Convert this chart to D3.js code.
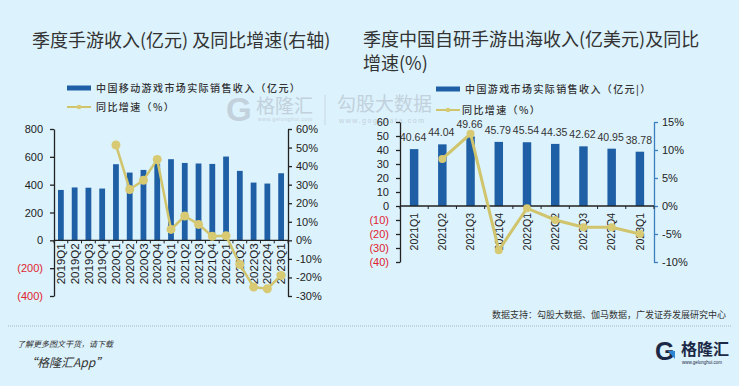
<!DOCTYPE html>
<html><head><meta charset="utf-8">
<script src="https://cdn.jsdelivr.net/npm/d3@7"></script>
<style>
html,body{margin:0;padding:0;background:#dcf2fc;}
svg{display:block;}
text{font-family:"Liberation Sans",Arial,sans-serif;}
</style></head><body>
<svg id="c" width="739" height="386"></svg>
<script>
// ---------- data ----------
const quartersL = ["2019Q1","2019Q2","2019Q3","2019Q4","2020Q1","2020Q2","2020Q3","2020Q4","2021Q1","2021Q2","2021Q3","2021Q4","2022Q1","2022Q2","2022Q3","2022Q4","2023Q1"];
const revenueL = [362,380,378,372,547,487,506,550,583,556,552,549,602,499,415,408,482];
const growthL = [null,null,null,null,51.4,27.4,32.4,43.6,5.9,13.1,8.6,2.2,2.5,-13.0,-25.2,-26.1,-18.9];
const leftTicksL = [800,600,400,200,0,-200,-400];
const rightTicksL = [60,50,40,30,20,10,0,-10,-20,-30];

const quartersR = ["2021Q1","2021Q2","2021Q3","2021Q4","2022Q1","2022Q2","2022Q3","2022Q4","2023Q1"];
const revenueR = [40.64,44.04,49.66,45.79,45.54,44.35,42.62,40.95,38.78];
const growthR = [null,8.4,12.9,-7.9,-0.4,-2.5,-3.8,-3.8,-5.0];
const leftTicksR = [60,50,40,30,20,10,0,-10,-20,-30,-40];
const rightTicksR = [15,10,5,0,-5,-10];

const titleL = "季度手游收入(亿元) 及同比增速(右轴)";
const titleR1 = "季度中国自研手游出海收入(亿美元)及同比";
const titleR2 = "增速(%)";
const legendBarL = "中国移动游戏市场实际销售收入（亿元）";
const legendBarR = "中国游戏市场实际销售收入（亿元|）";
const legendLine = "同比增速（%）";
const sourceText = "数据支持：勾股大数据、伽马数据，广发证券发展研究中心";

// ---------- styles ----------
const BAR = "#1f5fa5", LINE = "#d0c46c", DOT = "#d8ca72", INK = "#333";
const CJK = '"Noto Sans CJK SC","Noto Sans",sans-serif';
const svg = d3.select("#c");

const fmtNum = v => v < 0 ? "(" + Math.abs(v) + ")" : String(v);
const fmtPct = v => v + "%";

// ---------- watermark ----------
const wm = svg.append("g").attr("fill", "#c2d1dc");
wm.append("text").attr("x", 226).attr("y", 121).attr("font-size", 33).attr("font-weight", 900).text("G");
wm.append("text").attr("x", 256).attr("y", 113).attr("font-size", 19).style("font-family", CJK).text("格隆汇");
wm.append("text").attr("x", 258).attr("y", 121).attr("font-size", 5).attr("letter-spacing", 0.6).text("www.gelonghui.com");
wm.append("line").attr("x1", 325).attr("x2", 325).attr("y1", 95).attr("y2", 125).attr("stroke", "#c8d6e0").attr("stroke-width", 1);
wm.append("text").attr("x", 337).attr("y", 111).attr("font-size", 19).style("font-family", CJK).text("勾股大数据");
wm.append("text").attr("x", 339).attr("y", 123).attr("font-size", 7).attr("letter-spacing", 1.6).text("www.gogudata.com");

// ---------- titles ----------
svg.append("text").attr("x", 32).attr("y", 47).attr("font-size", 18).attr("fill", INK).style("font-family", CJK).text(titleL);
svg.append("text").attr("x", 363).attr("y", 46).attr("font-size", 18).attr("fill", INK).style("font-family", CJK).text(titleR1);
svg.append("text").attr("x", 363).attr("y", 70).attr("font-size", 18).attr("fill", INK).style("font-family", CJK).text(titleR2);

// ---------- legends ----------
function legend(x0, yBar, yLine, txtX, barLabel, lineTxtX) {
  svg.append("rect").attr("x", x0).attr("y", yBar - 2.5).attr("width", 24).attr("height", 5).attr("fill", BAR);
  svg.append("text").attr("x", txtX).attr("y", yBar + 3.5).attr("font-size", 10).attr("letter-spacing", 1.4)
     .attr("font-weight", 500).attr("fill", INK).style("font-family", CJK).text(barLabel);
  svg.append("line").attr("x1", x0).attr("x2", x0 + 24).attr("y1", yLine).attr("y2", yLine).attr("stroke", LINE).attr("stroke-width", 2);
  svg.append("circle").attr("cx", x0 + 12).attr("cy", yLine).attr("r", 2.3).attr("fill", DOT);
  svg.append("text").attr("x", lineTxtX).attr("y", yLine + 3.5).attr("font-size", 10).attr("letter-spacing", 1.4)
     .attr("font-weight", 500).attr("fill", INK).style("font-family", CJK).text(legendLine);
}
legend(67, 88, 107, 96, legendBarL, 96);
legend(436, 89, 110, 465, legendBarR, 462);

// ---------- generic dual-axis chart ----------
function chart(o) {
  const g = svg.append("g");
  const x = d3.scaleBand().domain(o.cats).range([o.x0, o.x1]).paddingInner(o.pad).paddingOuter(o.pad / 2);
  const yL = d3.scaleLinear().domain(o.domL).range([o.yb, o.yt]);
  const yR = d3.scaleLinear().domain(o.domR).range([o.yb, o.yt]);
  const step = x.step();
  const y0 = yL(0);

  g.selectAll("rect.bar").data(o.cats).join("rect").attr("class", "bar")
    .attr("x", d => x(d)).attr("width", x.bandwidth())
    .attr("y", (d, i) => yL(o.bars[i])).attr("height", (d, i) => y0 - yL(o.bars[i]))
    .attr("fill", BAR);

  if (o.values) {
    g.selectAll("text.val").data(o.cats).join("text").attr("class", "val")
      .attr("x", d => x(d) + x.bandwidth() / 2 - 1).attr("y", (d, i) => yL(o.bars[i]) - 8)
      .attr("text-anchor", "middle").attr("font-size", 10.5).attr("fill", INK)
      .text((d, i) => o.bars[i].toFixed(2));
  }

  const aL = g.append("g").attr("transform", `translate(${o.x0},0)`)
    .call(d3.axisLeft(yL).tickValues(o.ticksL).tickSize(4).tickSizeOuter(0).tickPadding(o.padL).tickFormat(fmtNum));
  aL.select(".domain").attr("stroke", o.colL).attr("stroke-width", 1.3);
  aL.selectAll(".tick line").attr("stroke", o.colL).attr("stroke-width", 1.3);
  aL.selectAll(".tick text").attr("font-size", 11).attr("font-family", '"Liberation Sans",Arial,sans-serif')
    .attr("fill", d => d < 0 ? "#e0242f" : "#222");

  const aR = g.append("g").attr("transform", `translate(${o.x1},0)`)
    .call(d3.axisRight(yR).tickValues(o.ticksR).tickSize(4).tickSizeOuter(0).tickPadding(4).tickFormat(fmtPct));
  aR.select(".domain").attr("stroke", o.colR).attr("stroke-width", 1.3);
  aR.selectAll(".tick line").attr("stroke", o.colR).attr("stroke-width", 1.3);
  aR.selectAll(".tick text").attr("font-size", 11).attr("font-family", '"Liberation Sans",Arial,sans-serif').attr("fill", "#222");

  g.append("line").attr("x1", o.x0).attr("x2", o.x1).attr("y1", y0).attr("y2", y0).attr("stroke", "#222").attr("stroke-width", 1.3);
  g.selectAll("line.bt").data(d3.range(o.cats.length + 1)).join("line").attr("class", "bt")
    .attr("x1", i => o.x0 + i * step).attr("x2", i => o.x0 + i * step)
    .attr("y1", y0).attr("y2", y0 + 3).attr("stroke", "#222").attr("stroke-width", 1);

  g.selectAll("text.cat").data(o.cats).join("text").attr("class", "cat")
    .attr("transform", d => `translate(${x(d) + x.bandwidth() / 2 + o.catFs * 0.36},${y0 + o.catGap}) rotate(-90)`)
    .attr("text-anchor", "end").attr("font-size", o.catFs).attr("fill", "#222").text(d => d);

  const pts = o.cats.map((d, i) => [x(d) + x.bandwidth() / 2, o.line[i]]).filter(p => p[1] != null);
  const ln = d3.line().x(p => p[0]).y(p => yR(p[1]));
  g.append("path").attr("d", ln(pts)).attr("fill", "none").attr("stroke", LINE).attr("stroke-width", o.lw);
  g.selectAll("circle.pt").data(pts).join("circle").attr("class", "pt")
    .attr("cx", p => p[0]).attr("cy", p => yR(p[1])).attr("r", o.r).attr("fill", DOT);
}

chart({cats: quartersL, bars: revenueL, line: growthL, x0: 54, x1: 288, yt: 129, yb: 296,
  domL: [-400, 800], domR: [-30, 60], ticksL: leftTicksL, ticksR: rightTicksL, pad: 0.58,
  padL: 7, colL: "#222", colR: "#222", catFs: 11.5, catGap: 3, lw: 2.5, r: 4.5, values: false});

chart({cats: quartersR, bars: revenueR, line: growthR, x0: 400, x1: 654, yt: 122, yb: 262,
  domL: [-40, 60], domR: [-10, 15], ticksL: leftTicksR, ticksR: rightTicksR, pad: 0.7,
  padL: 7, colL: "#222", colR: "#3b7fc0", catFs: 10.5, catGap: 7, lw: 3, r: 4, values: true});

// ---------- footer ----------
svg.append("text").attr("x", 492).attr("y", 318).attr("font-size", 9).attr("fill", INK).style("font-family", CJK).text(sourceText);
svg.append("line").attr("x1", 8).attr("x2", 731).attr("y1", 326).attr("y2", 326)
  .attr("stroke", "#a9b8c2").attr("stroke-width", 1).attr("stroke-dasharray", "1,1");
svg.append("text").attr("x", 17).attr("y", 347).attr("font-size", 8).attr("font-style", "italic").attr("fill", INK).style("font-family", CJK).text("了解更多图文干货，请下载");
svg.append("text").attr("x", 25).attr("y", 367).attr("font-size", 12).attr("font-style", "italic").attr("fill", INK).style("font-family", CJK).text("“格隆汇App”");

const logo = svg.append("g");
logo.append("text").attr("x", 655).attr("y", 360).attr("font-size", 25).attr("font-weight", 900).attr("fill", "#1b2946").text("G");
logo.append("path").attr("d", "M668,351 L675,351 L675,359 Z").attr("fill", "#2c86d6");
logo.append("text").attr("x", 681).attr("y", 355).attr("font-size", 16).attr("font-weight", 700).attr("fill", "#1b2946").style("font-family", CJK).text("格隆汇");
logo.append("text").attr("x", 682).attr("y", 364).attr("font-size", 4.5).attr("fill", "#1b2946").text("www.gelonghui.com");
</script>
</body></html>
